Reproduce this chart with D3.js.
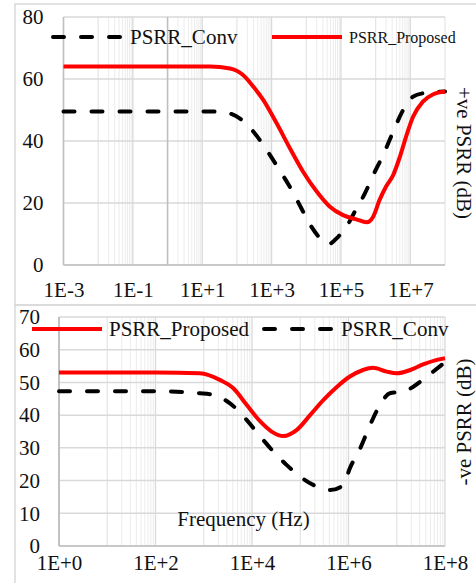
<!DOCTYPE html>
<html>
<head>
<meta charset="utf-8">
<script src="https://cdn.jsdelivr.net/npm/d3@7"></script>
<style>
  body { margin: 0; background: #fff; }
  svg text { font-family: "Liberation Serif", "Times New Roman", serif; fill: #111; }
</style>
</head>
<body>
<svg id="chart"></svg>
<script>
// ---- data ----
// top panel: +ve PSRR
var topConvFreq = [1e-3, 1, 17, 41, 120, 300, 720, 1700, 3800, 7200, 1.4e4, 2.8e4, 4.3e4, 8.3e4, 1.45e5, 2.5e5, 4.9e5, 8.5e5, 1.65e6, 3.2e6, 6.2e6, 1.2e7, 2.3e7, 1e8];
var topConvDb   = [49.5, 49.5, 49.5, 49.3, 47.3, 43, 37.1, 30.6, 24.2, 18.3, 12.4, 8.1, 6.7, 9.1, 12.4, 17.2, 23.1, 29, 35.5, 43, 50, 54.3, 55.4, 56];
var topPropFreq = [1e-3, 1, 17, 63, 150, 300, 580, 1400, 3400, 8100, 2.0e4, 4.8e4, 1.15e5, 2.8e5, 5.5e5, 8.5e5, 1.3e6, 2.0e6, 3.2e6, 5.0e6, 7.8e6, 1.2e7, 2.3e7, 4.6e7, 1e8];
var topPropDb   = [64, 64, 64, 63.4, 61.3, 57.5, 53.2, 45.7, 37.6, 30.1, 23.7, 18.8, 16.1, 14.7, 13.8, 15.6, 21, 25.3, 29, 34.9, 41.9, 47.8, 52.7, 55.1, 56];

// bottom panel: -ve PSRR
var botPropFreq = [1, 100, 830, 2200, 4100, 7800, 1.5e4, 2.6e4, 4.5e4, 8.5e4, 1.6e5, 3.0e5, 5.8e5, 1.07e6, 2.0e6, 3.2e6, 6.2e6, 1e7, 1.9e7, 3.5e7, 6.8e7, 1e8];
var botPropDb   = [53, 53, 52.8, 50.7, 48.2, 43.1, 38, 34.9, 33.6, 35.5, 40, 44.6, 48.7, 51.8, 53.8, 54.5, 53.3, 52.8, 53.8, 55.5, 56.9, 57.4];
var botConvFreq = [1, 100, 830, 1600, 3500, 7800, 1.5e4, 2.8e4, 5.2e4, 1e5, 1.9e5, 4.2e5, 7.8e5, 1.07e6, 1.75e6, 2.8e6, 4.5e6, 7.2e6, 1.4e7, 2.2e7, 4.2e7, 1e8];
var botConvDb   = [47.3, 47.3, 46.7, 46.2, 43.6, 38.5, 33.4, 28.8, 24.8, 21.2, 18.6, 17.1, 18.6, 23.8, 29.9, 37, 43.1, 46.7, 47.2, 48.7, 51.8, 56.2];

var topXTicks = [1e-3, 1e-1, 1e1, 1e3, 1e5, 1e7];
var topYTicks = [0, 20, 40, 60, 80];
var botXTicks = [1, 1e2, 1e4, 1e6, 1e8];
var botYTicks = [0, 10, 20, 30, 40, 50, 60, 70];

var W = 476, H = 583;
var svg = d3.select("#chart").attr("width", W).attr("height", H);

var fmtE = function(v) {
  var e = Math.round(Math.log10(v));
  return "1E" + (e < 0 ? "-" : "+") + Math.abs(e);
};
var zip = function(xs, ys) { return xs.map(function(x, i) { return [x, ys[i]]; }); };

// panel frames
svg.append("rect").attr("x", 15).attr("y", 4).attr("width", 480).attr("height", 301)
  .attr("fill", "none").attr("stroke", "#d9d9d9").attr("stroke-width", 1.5);
svg.append("rect").attr("x", 15).attr("y", 305).attr("width", 480).attr("height", 300)
  .attr("fill", "none").attr("stroke", "#d9d9d9").attr("stroke-width", 1.5);

var drawPanel = function(p) {
  var x = d3.scaleLog().domain(p.xDomain).range([p.left, p.right]);
  var y = d3.scaleLinear().domain(p.yDomain).range([p.bottom, p.top]);
  var g = svg.append("g");

  // minor vertical grid (only every other decade, like the source)
  var lo = Math.round(Math.log10(p.xDomain[0])), hi = Math.round(Math.log10(p.xDomain[1]));
  for (var e = lo; e < hi; e++) {
    if ((e - lo) % 2 == 1) {
      for (var m = 2; m <= 9; m++) {
        g.append("line").attr("x1", x(m * Math.pow(10, e))).attr("x2", x(m * Math.pow(10, e)))
          .attr("y1", p.top).attr("y2", p.bottom).attr("stroke", "#ececec").attr("stroke-width", 1);
      }
    }
  }
  // decade lines
  for (var e2 = lo; e2 <= hi; e2++) {
    var v = Math.pow(10, e2);
    g.append("line").attr("x1", x(v)).attr("x2", x(v)).attr("y1", p.top).attr("y2", p.bottom)
      .attr("stroke", (e2 - lo) % 2 == 0 ? "#d9d9d9" : "#e6e6e6").attr("stroke-width", 1.3);
  }
  // horizontal grid
  g.selectAll(".hgrid").data(p.yTicks).enter().append("line")
    .attr("x1", p.left).attr("x2", p.right).attr("y1", function(d) { return y(d); }).attr("y2", function(d) { return y(d); })
    .attr("stroke", "#d9d9d9").attr("stroke-width", 1.5);

  // axis lines (value axis crosses at 1)
  g.append("line").attr("x1", x(1)).attr("x2", x(1)).attr("y1", p.top).attr("y2", p.bottom)
    .attr("stroke", "#bfbfbf").attr("stroke-width", 1.5);
  g.append("line").attr("x1", p.left).attr("x2", p.left).attr("y1", p.top).attr("y2", p.bottom)
    .attr("stroke", "#bfbfbf").attr("stroke-width", 1.5);
  g.append("line").attr("x1", p.left).attr("x2", p.right).attr("y1", p.bottom).attr("y2", p.bottom)
    .attr("stroke", "#bfbfbf").attr("stroke-width", 1.5);

  // axes
  var xa = g.append("g").attr("transform", "translate(0," + p.bottom + ")")
    .call(d3.axisBottom(x).tickValues(p.xTicks).tickFormat(fmtE).tickSize(0).tickPadding(p.xPad));
  var ya = g.append("g").attr("transform", "translate(" + p.left + ",0)")
    .call(d3.axisLeft(y).tickValues(p.yTicks).tickFormat(d3.format("d")).tickSize(0).tickPadding(p.yPad));
  [xa, ya].forEach(function(a) {
    a.select(".domain").remove();
    a.selectAll("text").style("font-family", "Liberation Serif, serif").style("font-size", "21px").attr("fill", "#111");
  });

  // curves
  var line = d3.line().x(function(d) { return x(d[0]); }).y(function(d) { return y(d[1]); }).curve(d3.curveMonotoneX);
  p.series.forEach(function(s) {
    g.append("path").datum(s.data).attr("d", line).attr("fill", "none")
      .attr("stroke", s.color).attr("stroke-width", 4)
      .attr("stroke-linecap", s.dash ? "round" : "butt")
      .attr("stroke-dasharray", s.dash ? "11,17" : null);
  });

  // legend
  p.legend.forEach(function(l) {
    g.append("line").attr("x1", l.x).attr("x2", l.x + 70).attr("y1", l.y).attr("y2", l.y)
      .attr("stroke", l.color).attr("stroke-width", 4)
      .attr("stroke-linecap", l.dash ? "round" : "butt")
      .attr("stroke-dasharray", l.dash ? "11,17" : null);
    g.append("text").attr("x", l.x + 77).attr("y", l.y).attr("dy", "0.35em")
      .style("font-size", l.size + "px").text(l.label);
  });

  // side title
  g.append("text").attr("transform", "translate(464," + p.titleY + ") rotate(" + p.titleRot + ")")
    .attr("text-anchor", "middle").attr("dy", "0.35em").style("font-size", "21px").text(p.title);
  return { x: x, y: y };
};

drawPanel({
  xDomain: [1e-3, 1e8], yDomain: [0, 80],
  left: 63.5, right: 445, top: 17, bottom: 265,
  xTicks: topXTicks, yTicks: topYTicks, xPad: 17, yPad: 20,
  series: [
    { data: zip(topConvFreq, topConvDb), color: "#000", dash: true },
    { data: zip(topPropFreq, topPropDb), color: "#ff0000", dash: false }
  ],
  legend: [
    { x: 53, y: 37, color: "#000", dash: true, label: "PSRR_Conv", size: 21 },
    { x: 272, y: 37, color: "#ff0000", dash: false, label: "PSRR_Proposed", size: 16 }
  ],
  title: "+ve PSRR (dB)", titleY: 153, titleRot: 90
});

drawPanel({
  xDomain: [1, 1e8], yDomain: [0, 70],
  left: 59, right: 445, top: 317, bottom: 546,
  xTicks: botXTicks, yTicks: botYTicks, xPad: 9, yPad: 19,
  series: [
    { data: zip(botConvFreq, botConvDb), color: "#000", dash: true },
    { data: zip(botPropFreq, botPropDb), color: "#ff0000", dash: false }
  ],
  legend: [
    { x: 32, y: 329, color: "#ff0000", dash: false, label: "PSRR_Proposed", size: 21 },
    { x: 264, y: 329, color: "#000", dash: true, label: "PSRR_Conv", size: 21 }
  ],
  title: "-ve PSRR (dB)", titleY: 422, titleRot: -90
});

svg.append("text").attr("x", 243.5).attr("y", 526).attr("text-anchor", "middle")
  .style("font-size", "21px").text("Frequency (Hz)");
</script>
</body>
</html>
